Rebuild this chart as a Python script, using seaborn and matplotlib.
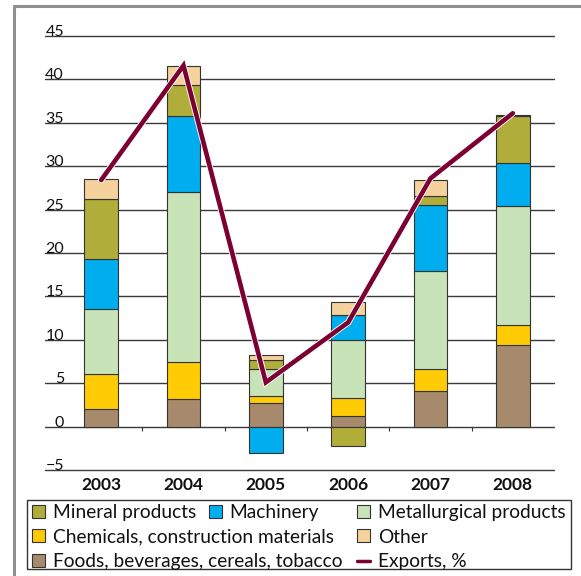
import matplotlib.pyplot as plt
import matplotlib.patheffects as pe
from matplotlib.patches import Patch, Rectangle
from matplotlib.lines import Line2D
import seaborn as sns
import numpy as np

# values (percentage points)
years = ["2003", "2004", "2005", "2006", "2007", "2008"]
foods = [2.0, 3.2, 2.7, 1.25, 4.15, 9.45]
chemicals = [4.1, 4.2, 0.8, 2.05, 2.45, 2.2]
metallurgical = [7.5, 19.6, 3.1, 6.7, 11.35, 13.8]
machinery = [5.7, 8.8, -3.0, 2.8, 7.55, 4.9]
mineral = [6.9, 3.6, 1.1, -2.2, 1.1, 5.45]
other = [2.3, 2.1, 0.5, 1.6, 1.85, 0.15]
exports = [28.4, 41.6, 5.1, 12.0, 28.6, 36.1]
y_ticks = list(range(-5, 50, 5))

COLORS = {
    "Foods, beverages, cereals, tobacco": "#a78a6b",
    "Chemicals, construction materials": "#ffcb05",
    "Metallurgical products": "#c8e3b7",
    "Machinery": "#00adee",
    "Mineral products": "#b1ad3a",
    "Other": "#f5d19b",
}
MAROON = "#7d0033"
EDGE = "#333333"

W, H = 581, 576
sns.set_theme(style="white")
plt.rcParams["font.family"] = ["Lato", "DejaVu Sans"]

fig = plt.figure(figsize=(W / 100, H / 100), dpi=100)
ax = fig.add_axes([45 / W, 1 - 470 / H, 509 / W, 434 / H])

x = np.arange(len(years))
layers = [
    ("Foods, beverages, cereals, tobacco", foods),
    ("Chemicals, construction materials", chemicals),
    ("Metallurgical products", metallurgical),
    ("Machinery", machinery),
    ("Mineral products", mineral),
    ("Other", other),
]

# stacked bars, negatives hang below zero
pos_bottom = np.zeros(len(years))
neg_bottom = np.zeros(len(years))
for name, vals in layers:
    v = np.array(vals, dtype=float)
    b = np.where(v >= 0, pos_bottom, neg_bottom)
    ax.bar(x, v, width=0.41, bottom=b, color=COLORS[name],
           edgecolor=EDGE, linewidth=0.8, zorder=2)
    pos_bottom += np.clip(v, 0, None)
    neg_bottom += np.clip(v, None, 0)

sns.lineplot(x=x, y=exports, ax=ax, color=MAROON, linewidth=3.3, zorder=4,
             solid_joinstyle="miter", legend=False,
             path_effects=[pe.Stroke(linewidth=4.6, foreground="white"), pe.Normal()])

ax.set_xlim(-0.682, 5.5)
ax.set_ylim(-5, 45)
ax.set_yticks(y_ticks)
ax.set_xticks(x)
ax.set_xticklabels(years, fontweight="bold", fontsize=12.5)
ax.set_xlabel("")
ax.set_ylabel("")
ax.tick_params(axis="x", length=0, pad=5, colors="#111111")
ax.tick_params(axis="y", length=0, pad=-13.7, labelsize=11.5, colors="#111111")
for lab in ax.get_yticklabels():
    lab.set_verticalalignment("baseline")
for s in ax.spines.values():
    s.set_visible(False)
ax.yaxis.grid(True, color="#3a3a3a", linewidth=1.0, zorder=1)
ax.set_axisbelow(True)
for gl in ax.get_ygridlines():
    gl.set_clip_on(False)

# small category ticks on the zero line
ax.vlines(x[:-1] + 0.5, -0.5, 0, color=EDGE, linewidth=0.8, zorder=1)

# outer frame (cropped at right and bottom)
fig.add_artist(Line2D([14 / W, 14 / W], [0, 1 - 6 / H], transform=fig.transFigure,
                      color="#8f8f8f", linewidth=2.2))
fig.add_artist(Line2D([14 / W, 1], [1 - 6 / H, 1 - 6 / H], transform=fig.transFigure,
                      color="#8f8f8f", linewidth=2.2))

# legend box
fig.add_artist(Rectangle((27 / W, 1 - 569 / H), 544 / W, 69 / H, transform=fig.transFigure,
                         fill=False, edgecolor=EDGE, linewidth=1.0))


def patch(name):
    return Patch(facecolor=COLORS[name], edgecolor=EDGE, linewidth=0.8)


def add_legend(handles, labels, x_px):
    leg = fig.legend(handles, labels, loc="upper left",
                     bbox_to_anchor=(x_px / W, 1 - 504 / H), frameon=False,
                     borderpad=0, borderaxespad=0, handlelength=0.66,
                     handleheight=0.66, handletextpad=0.42, labelspacing=0.4,
                     fontsize=13.8)
    for t in leg.get_texts():
        t.set_color("#111111")
    return leg


col1 = ["Mineral products", "Chemicals, construction materials",
        "Foods, beverages, cereals, tobacco"]
add_legend([patch(n) for n in col1], col1, 32)
add_legend([patch("Machinery")], ["Machinery"], 209)
add_legend([patch("Metallurgical products"), patch("Other"),
            Line2D([], [], color=MAROON, linewidth=2.5)],
           ["Metallurgical products", "Other", "Exports, %"], 357)

fig.savefig("out.png", dpi=100, facecolor="white")
plt.close(fig)
